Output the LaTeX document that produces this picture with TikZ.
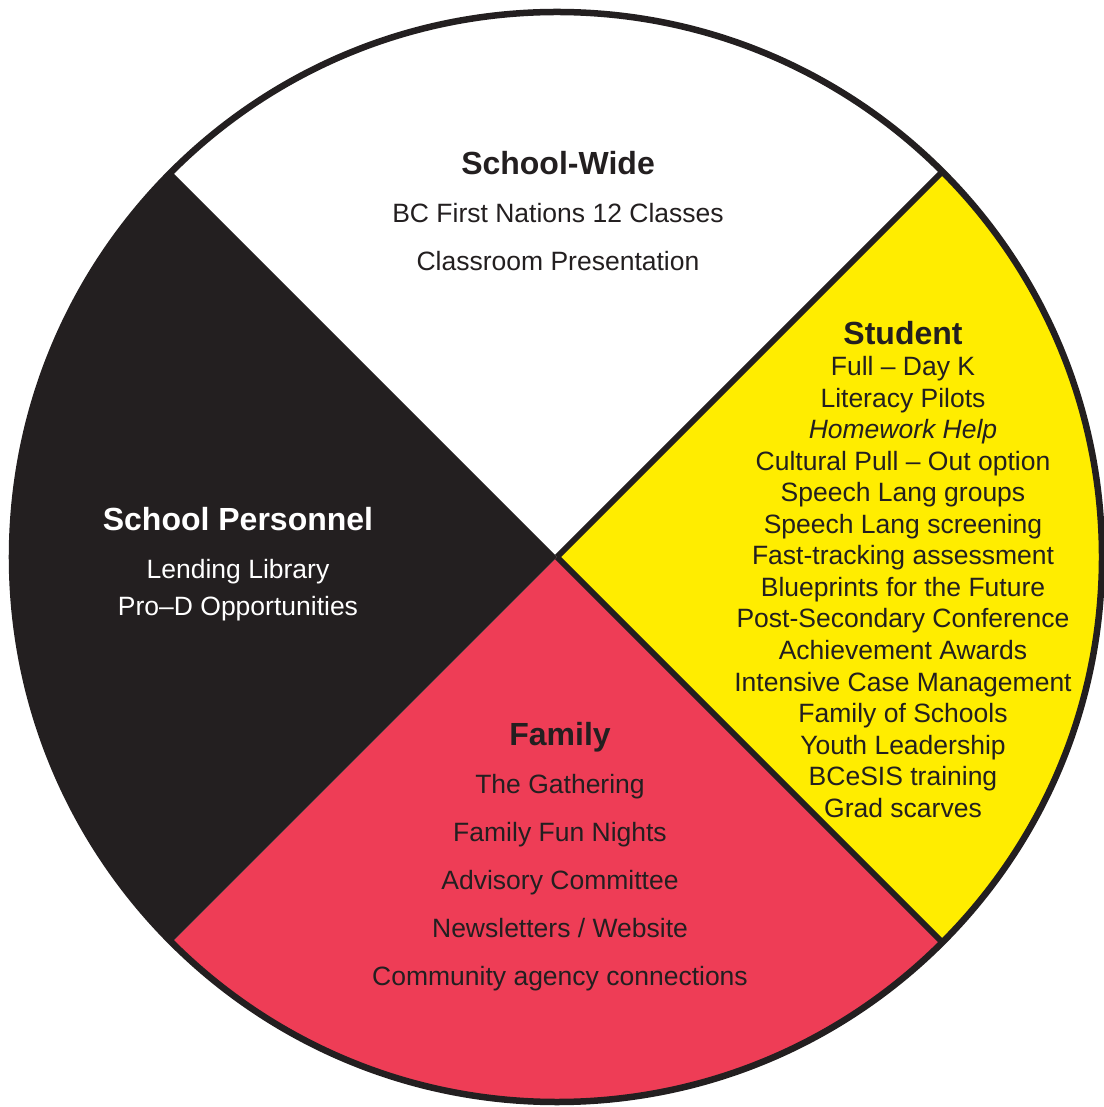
\documentclass[tikz,border=0pt]{standalone}
\usepackage{fontspec}
\setmainfont{Liberation Sans}
\definecolor{wheelblack}{HTML}{231F20}
\definecolor{wheelyellow}{HTML}{FFED00}
\definecolor{wheelred}{HTML}{EE3D56}

\begin{document}
\begin{tikzpicture}[x=1pt,y=1pt,
  head/.style={font=\fontsize{32}{38}\selectfont\bfseries,anchor=base,text=wheelblack},
  item/.style={font=\fontsize{26.5}{31.5}\selectfont,anchor=base,text=wheelblack}]
  \useasboundingbox (-557,-550) rectangle (546,557);
  \fill[white] (0,0) -- (45:545pt) arc[start angle=45,end angle=135,radius=545pt] -- cycle;
  \fill[wheelyellow] (0,0) -- (-45:545pt) arc[start angle=-45,end angle=45,radius=545pt] -- cycle;
  \fill[wheelred] (0,0) -- (-135:545pt) arc[start angle=-135,end angle=-45,radius=545pt] -- cycle;
  \fill[wheelblack] (0,0) -- (135:545pt) arc[start angle=135,end angle=225,radius=545pt] -- cycle;
  \draw[wheelblack,line width=6pt] (0,0) -- (45:545pt) (0,0) -- (-45:545pt);
  \draw[wheelblack,line width=6.5pt] (0,0) circle[radius=545pt];

  \node[head] (wide) at (1,382) {School-Wide};
  \foreach \lab [count=\i from 0] in {BC First Nations 12 Classes,Classroom Presentation}{
    \node[item] (wide\i) at (1,{334-48*\i}) {\lab};
  }

  \node[head] (stu) at (346,212) {Student};
  \foreach \lab [count=\i from 0] in {Full -- Day K,Literacy Pilots,{\itshape Homework Help},
    Cultural Pull -- Out option,Speech Lang groups,Speech Lang screening,
    Fast-tracking assessment,Blueprints for the Future,Post-Secondary Conference,
    Achievement Awards,Intensive Case Management,Family of Schools,
    Youth Leadership,BCeSIS training,Grad scarves}{
    \node[item] (stu\i) at (346,{181-31.5*\i}) {\lab};
  }

  \node[head,text=white] (pers) at (-319,26) {School Personnel};
  \node[item,text=white] (pers0) at (-319,-22) {Lending Library};
  \node[item,text=white] (pers1) at (-319,-59) {Pro--D Opportunities};

  \node[head] (fam) at (3,-188) {Family};
  \foreach \lab [count=\i from 0] in {The Gathering,Family Fun Nights,Advisory Committee,
    {Newsletters / Website},Community agency connections}{
    \node[item] (fam\i) at (3,{-236-48*\i}) {\lab};
  }
\end{tikzpicture}
\end{document}
